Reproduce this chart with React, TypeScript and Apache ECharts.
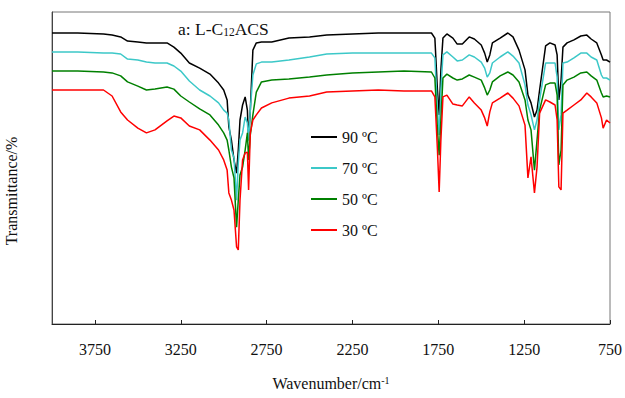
import React, { useEffect, useRef } from "react";
import * as echarts from "echarts";

const wavenumbers = [4000, 3850, 3700, 3650, 3600, 3560, 3500, 3450, 3400, 3330, 3290, 3250, 3200, 3140, 3080, 3030, 3000, 2980, 2970, 2955, 2940, 2925, 2915, 2905, 2890, 2875, 2862, 2855, 2845, 2830, 2810, 2780, 2720, 2620, 2500, 2400, 2250, 2100, 1950, 1790, 1770, 1755, 1745, 1735, 1723, 1700, 1665, 1640, 1610, 1570, 1540, 1500, 1480, 1465, 1450, 1435, 1390, 1345, 1315, 1280, 1245, 1228, 1210, 1190, 1175, 1160, 1125, 1100, 1070, 1058, 1048, 1035, 1024, 1000, 960, 920, 885, 860, 827, 800, 790, 770, 750];

const t90 = [97.0, 97.0, 96.7, 96.3, 95.7, 94.3, 94.0, 93.7, 93.7, 93.7,
  92.3, 90.3, 87.0, 85.3, 83.3, 80.3, 78.0, 74.7, 65.7, 61.3,
  54.7, 50.3, 58.0, 68.0, 73.0, 75.7, 71.3, 61.3, 71.3, 91.3,
  93.7, 94.0, 94.0, 95.3, 95.7, 96.3, 96.7, 97.0, 97.0, 97.0,
  95.3, 78.0, 69.7, 84.7, 95.3, 96.7, 95.3, 93.3, 93.3, 95.7,
  95.0, 93.0, 90.3, 87.3, 89.7, 93.7, 95.3, 97.0, 95.7, 91.3,
  84.7, 76.3, 73.7, 69.0, 71.3, 78.0, 92.7, 93.7, 93.0, 89.7,
  74.7, 81.3, 92.3, 93.7, 94.7, 96.0, 96.3, 95.0, 93.7, 89.7,
  88.0, 88.0, 87.3];

const t70 = [90.7, 90.7, 90.3, 90.3, 90.0, 88.3, 88.0, 87.3, 87.0, 87.0,
  86.0, 84.3, 81.0, 78.0, 76.0, 73.7, 71.3, 70.3, 68.0, 58.0,
  55.3, 41.3, 53.7, 61.3, 63.7, 69.0, 67.0, 61.3, 71.3, 83.0,
  86.7, 87.3, 87.3, 88.0, 89.0, 90.0, 90.3, 90.3, 90.3, 90.3,
  88.7, 71.3, 63.0, 78.0, 89.7, 90.7, 89.0, 87.7, 88.0, 89.7,
  89.0, 87.3, 85.3, 82.3, 83.7, 87.0, 89.0, 90.7, 89.3, 87.0,
  79.7, 73.0, 69.7, 64.7, 68.0, 74.7, 87.0, 87.0, 87.0, 82.3,
  64.7, 69.7, 87.0, 87.3, 88.7, 90.3, 90.3, 89.0, 88.0, 83.0,
  82.0, 82.0, 81.3];

const t50 = [84.3, 84.3, 84.0, 83.7, 82.7, 80.7, 79.3, 78.0, 78.3, 79.0,
  78.3, 76.0, 74.0, 71.7, 69.7, 66.3, 63.7, 61.3, 58.0, 52.3,
  48.7, 32.3, 41.3, 49.7, 52.3, 58.0, 63.7, 54.7, 63.0, 69.7,
  77.3, 80.7, 81.3, 81.7, 82.3, 83.0, 83.7, 84.0, 84.3, 84.0,
  82.0, 64.7, 56.3, 68.0, 82.0, 83.3, 82.0, 81.3, 81.7, 83.0,
  82.3, 81.3, 78.7, 76.3, 78.0, 80.7, 82.7, 84.0, 83.0, 80.7,
  74.7, 68.0, 64.7, 51.3, 61.3, 71.3, 79.7, 80.3, 80.3, 76.3,
  53.0, 58.0, 79.7, 81.3, 82.3, 83.7, 84.0, 82.7, 81.3, 77.0,
  75.7, 76.0, 75.7];

const t30 = [78.0, 78.0, 78.0, 76.0, 70.7, 68.0, 65.3, 63.7, 64.7, 67.7,
  69.3, 68.7, 66.0, 64.7, 61.3, 58.0, 54.7, 51.3, 43.7, 41.3,
  38.0, 25.7, 24.7, 41.3, 54.7, 57.0, 57.3, 44.7, 63.7, 68.0,
  69.7, 72.0, 73.7, 75.3, 76.0, 77.3, 77.7, 78.0, 77.7, 77.7,
  75.7, 58.0, 44.0, 61.3, 75.7, 76.3, 73.3, 73.0, 72.7, 75.7,
  73.7, 71.3, 68.7, 66.0, 70.7, 73.7, 75.3, 77.0, 75.3, 72.7,
  66.3, 48.7, 55.7, 43.7, 52.3, 70.3, 74.7, 74.0, 73.0, 68.0,
  45.7, 44.7, 70.3, 71.3, 73.0, 74.7, 77.0, 75.7, 73.7, 68.7,
  65.3, 68.0, 67.0];

const seriesNames = ["90 \u00BAC", "70 \u00BAC", "50 \u00BAC", "30 \u00BAC"];
const seriesColors = ["#000000", "#3CC8C8", "#008000", "#FF0000"];
const seriesValues = [t90, t70, t50, t30];
const xTickValues = [3750, 3250, 2750, 2250, 1750, 1250, 750];

const FONT = "Liberation Serif";

export default function App() {
  const ref = useRef<HTMLDivElement>(null);
  useEffect(() => {
    const chart = echarts.init(ref.current as HTMLDivElement, null, { renderer: "svg" });
    chart.setOption({
      animation: false,
      backgroundColor: "#ffffff",
      textStyle: { fontFamily: FONT },
      title: {
        text: "{a|a: L-C}{s|12}{a|ACS}",
        left: 178,
        top: 19,
        padding: 0,
        textStyle: {
          rich: {
            a: { fontFamily: FONT, fontSize: 17.5, color: "#111", fontWeight: "normal" },
            s: { fontFamily: FONT, fontSize: 11.5, color: "#111", fontWeight: "normal", verticalAlign: "bottom", padding: [7, 0, 0, 0] },
          },
        },
      },
      legend: {
        orient: "vertical",
        left: 311,
        top: 129,
        padding: 0,
        itemGap: 15,
        itemWidth: 26,
        itemHeight: 2,
        icon: "rect",
        formatter: (name: string) => "{t|" + name + "}",
        textStyle: {
          fontFamily: FONT,
          fontSize: 16,
          color: "#111",
          lineHeight: 16,
          rich: { t: { fontFamily: FONT, fontSize: 16, color: "#111", lineHeight: 16 } },
        },
        data: seriesNames,
      },
      grid: {
        left: 52,
        right: 15,
        top: 12,
        bottom: 74,
        show: true,
        borderColor: "#777",
        borderWidth: 1,
      },
      graphic: [
        {
          type: "text",
          x: 11,
          y: 191,
          rotation: Math.PI / 2,
          style: {
            text: "Transmittance/%",
            fontFamily: FONT,
            fontSize: 16,
            fill: "#111",
            align: "center",
            verticalAlign: "middle",
          },
        },
      ],
      xAxis: {
        type: "value",
        min: 750,
        max: 4000,
        inverse: true,
        splitLine: { show: false },
        axisLine: { show: true, lineStyle: { color: "#222", width: 1 } },
        axisTick: { show: true, inside: true, length: 4, customValues: xTickValues, lineStyle: { color: "#222" } },
        axisLabel: {
          customValues: xTickValues,
          margin: 17,
          formatter: (v: number) => "{t|" + String(v) + "}",
          fontFamily: FONT,
          fontSize: 16,
          color: "#111",
          rich: { t: { fontFamily: FONT, fontSize: 16, color: "#111" } },
        },
        name: "{a|Wavenumber/cm}{b|-1}",
        nameLocation: "middle",
        nameGap: 51,
        nameTextStyle: {
          rich: {
            a: { fontFamily: FONT, fontSize: 16, color: "#111" },
            b: { fontFamily: FONT, fontSize: 10, color: "#111", verticalAlign: "top", padding: [0, 0, 6, 0] },
          },
        },
      },
      yAxis: {
        type: "value",
        min: 0,
        max: 104,
        splitLine: { show: false },
        axisLine: { show: true, lineStyle: { color: "#444" } },
        axisTick: { show: false },
        axisLabel: { show: false },
      },
      series: seriesNames.map((name, i) => ({
        name,
        type: "line",
        showSymbol: false,
        symbol: "none",
        data: wavenumbers.map((w, j) => [w, seriesValues[i][j]]),
        lineStyle: { color: seriesColors[i], width: 1.5 },
        itemStyle: { color: seriesColors[i] },
      })),
    });
    return () => chart.dispose();
  }, []);
  return (
    <div
      ref={ref}
      style={{ position: "fixed", left: 0, top: 0, width: 625, height: 398, background: "#fff" }}
    />
  );
}
